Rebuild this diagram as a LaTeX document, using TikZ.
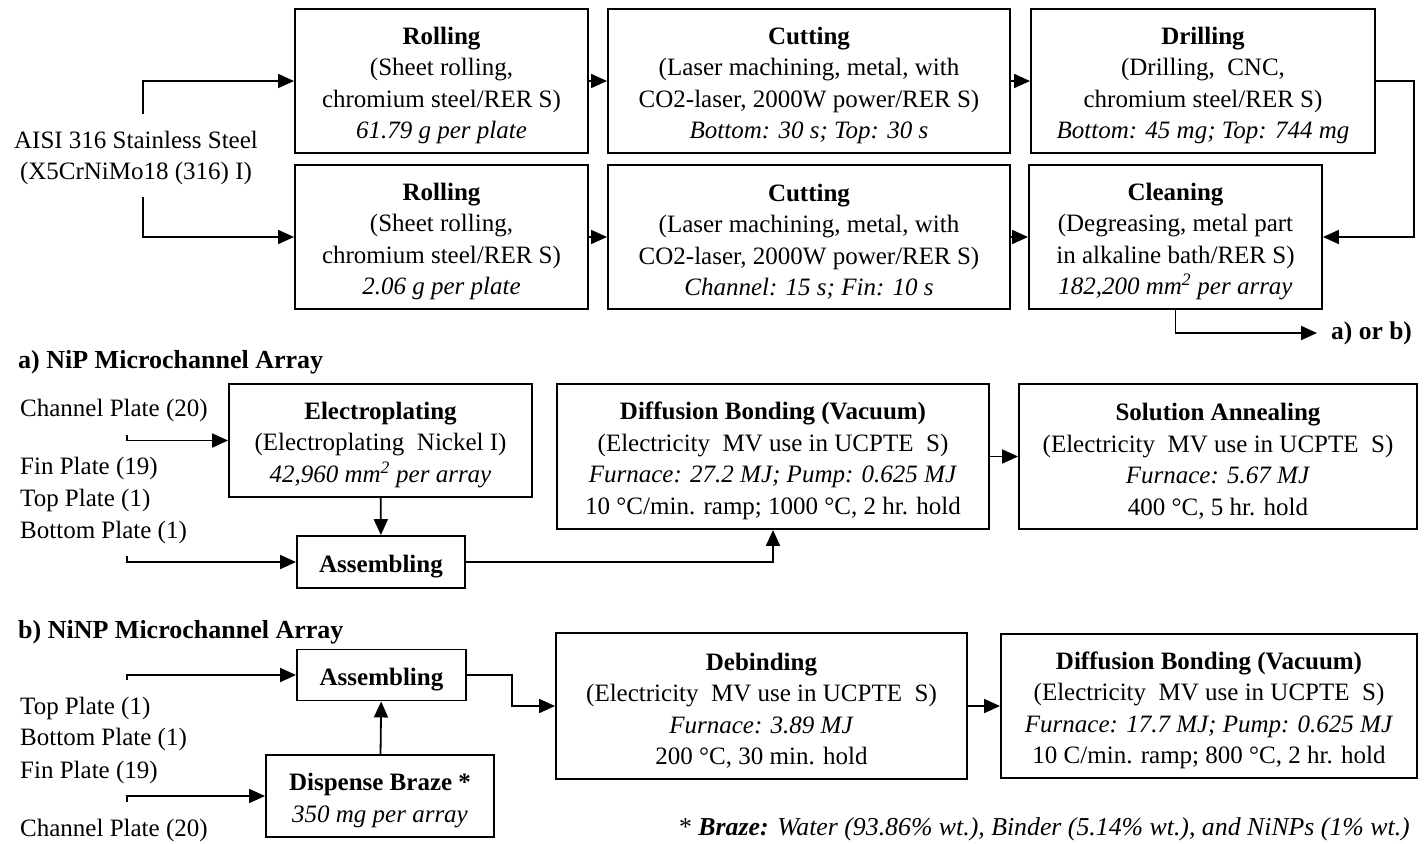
\documentclass[tikz,border=0pt]{standalone}
\usepackage{fontspec}
\setmainfont{Liberation Serif}
\usetikzlibrary{arrows.meta}
\newcommand\procbox[5]{%
  \node[box, minimum width=#3, minimum height=#4] (#1) at (#2) {};
  \node[boxtext] (#1t) at ([yshift=-4.5pt]#1.center) {#5};}
\begin{document}
\begin{tikzpicture}[x=1pt,y=-1pt,
  every node/.style={font=\fontsize{25}{31.5}\selectfont},
  box/.style={draw, line width=1.9pt, inner sep=0pt},
  boxtext/.style={align=center, inner sep=0pt},
  lbl/.style={anchor=west, inner sep=0pt, align=left},
  ttl/.style={anchor=west, inner sep=0pt, font=\fontsize{26}{30}\selectfont\bfseries},
  arr/.style={-{Triangle[length=16pt,width=14pt]}, line width=1.8pt}]
\useasboundingbox (0,0) rectangle (1426,843);

% ---------- top section ----------
\node[align=center, inner sep=0pt] (src) at (136,158) {AISI 316 Stainless Steel\\(X5CrNiMo18 (316) I)};
\coordinate (s1) at (143,114);
\coordinate (s2) at (143,197);

\procbox{roll1}{441.5,81}{293}{144}
  {\textbf{Rolling}\\(Sheet rolling,\\chromium steel/RER S)\\\textit{61.79 g per plate}}
\procbox{cut1}{809,81}{402}{144}
  {\textbf{Cutting}\\(Laser machining, metal, with\\CO2-laser, 2000W power/RER S)\\\textit{Bottom: 30 s; Top: 30 s}}
\procbox{drill}{1203,81}{344}{144}
  {\textbf{Drilling}\\(Drilling,\ \ CNC,\\chromium steel/RER S)\\\textit{Bottom: 45 mg; Top: 744 mg}}
\procbox{roll2}{441.5,237}{293}{144}
  {\textbf{Rolling}\\(Sheet rolling,\\chromium steel/RER S)\\\textit{2.06 g per plate}}
\procbox{cut2}{809,237}{402}{144}
  {\textbf{Cutting}\\(Laser machining, metal, with\\CO2-laser, 2000W power/RER S)\\\textit{Channel: 15 s; Fin: 10 s}}
\procbox{clean}{1175.5,237}{293}{144}
  {\textbf{Cleaning}\\(Degreasing,\ metal part\\in alkaline bath/RER S)\\\textit{182,200 mm\textsuperscript{2} per array}}
\node[anchor=west, inner xsep=14pt, inner ysep=0pt, font=\fontsize{25.5}{28}\selectfont\bfseries] (aorb) at (1317,333) {a) or b)};

\draw[arr] (s1) |- (roll1.west);
\draw[arr] (s2) |- (roll2.west);
\draw[arr] (roll1) -- (cut1);
\draw[arr] (cut1) -- (drill);
\draw[arr] (roll2) -- (cut2);
\draw[arr] (cut2) -- (clean);
\draw[arr] (drill.east) -- ++(38,0) |- (clean.east);
\draw[arr] (clean.south) |- (aorb.west);

% ---------- section a ----------
\node[ttl] (ta) at (18,362) {a) NiP Microchannel Array};
\node[lbl] (a1) at (20,410) {Channel Plate (20)};
\node[lbl] (a2) at (20,468) {Fin Plate (19)};
\node[lbl] (a3) at (20,500) {Top Plate (1)};
\node[lbl] (a4) at (20,532) {Bottom Plate (1)};
\coordinate (ia1) at (127,435);
\coordinate (ia2) at (127,556);

\procbox{elec}{380.5,440.5}{303}{113}
  {\textbf{Electroplating}\\(Electroplating\ \ Nickel I)\\\textit{42,960 mm\textsuperscript{2} per array}}
\procbox{asma}{381,562}{168}{52}{\textbf{Assembling}}
\procbox{dba}{773,456.5}{432}{145}
  {\textbf{Diffusion Bonding (Vacuum)}\\(Electricity\ \ MV use in UCPTE\ \ S)\\\textit{Furnace: 27.2 MJ; Pump: 0.625 MJ}\\10 °C/min. ramp; 1000 °C, 2 hr. hold}
\procbox{sa}{1218,456.5}{398}{145}
  {\textbf{Solution Annealing}\\(Electricity\ \ MV use in UCPTE\ \ S)\\\textit{Furnace: 5.67 MJ}\\400 °C, 5 hr. hold}

\draw[arr] (ia1) |- (elec.west);
\draw[arr] (ia2) |- (asma.west);
\draw[arr] (elec) -- (asma);
\draw[arr] (asma.east) -| (dba.south);
\draw[arr] (dba) -- (sa);

% ---------- section b ----------
\node[ttl] (tb) at (18,632) {b) NiNP Microchannel Array};
\node[lbl] (b1) at (20,708) {Top Plate (1)};
\node[lbl] (b2) at (20,739) {Bottom Plate (1)};
\node[lbl] (b3) at (20,772) {Fin Plate (19)};
\node[lbl] (b4) at (20,830) {Channel Plate (20)};
\coordinate (ib1) at (127,680);
\coordinate (ib2) at (127,802);

\procbox{asmb}{381.5,675}{169}{51}{\textbf{Assembling}}
\procbox{disp}{380,796}{228}{82}
  {\textbf{Dispense Braze *}\\\textit{350 mg per array}}
\procbox{deb}{761.5,706}{411}{146}
  {\textbf{Debinding}\\(Electricity\ \ MV use in UCPTE\ \ S)\\\textit{Furnace: 3.89 MJ}\\200 °C, 30 min. hold}
\procbox{dbb}{1209,706}{416}{144}
  {\textbf{Diffusion Bonding (Vacuum)}\\(Electricity\ \ MV use in UCPTE\ \ S)\\\textit{Furnace: 17.7 MJ; Pump: 0.625 MJ}\\10 C/min. ramp; 800 °C, 2 hr. hold}
\node[anchor=east, inner sep=0pt, font=\fontsize{25.8}{30}\selectfont] (fn) at (1410,829)
  {* \textbf{\textit{Braze:}} \textit{Water (93.86\% wt.), Binder (5.14\% wt.), and NiNPs (1\% wt.)}};

\draw[arr] (ib1) |- (asmb.west);
\draw[arr] (ib2) |- (disp.west);
\draw[arr] (disp) -- (asmb);
\draw[arr] (asmb.east) -- ++(45,0) |- (deb.west);
\draw[arr] (deb) -- (dbb);
\end{tikzpicture}
\end{document}
